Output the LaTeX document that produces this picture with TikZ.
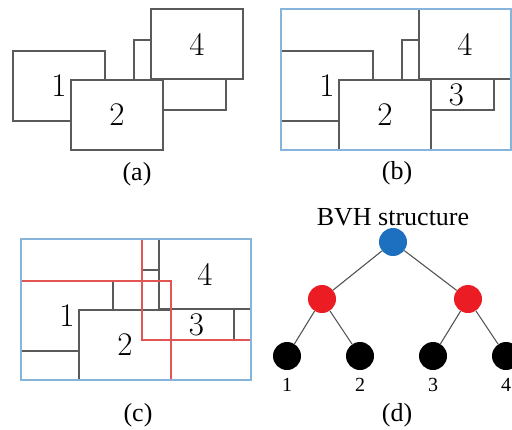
\documentclass[tikz,border=0pt]{standalone}
\usepackage{fontspec}
\newfontfamily\capfont{Liberation Serif}
\usetikzlibrary{positioning,fit}
\definecolor{rectgray}{HTML}{5A5A5A}
\definecolor{boxblue}{HTML}{86B4DA}
\definecolor{grpred}{HTML}{E25555}
\definecolor{rootblue}{HTML}{1D6FBF}
\definecolor{nodered}{HTML}{EC1C24}
\definecolor{edgegray}{HTML}{555555}
\tikzset{
  % rektanglar
  bx/.style={draw=rectgray,fill=white,line width=1.1pt,inner sep=0pt,outer sep=0pt,
             minimum width=92pt,minimum height=70pt,font=\fontsize{33}{36}\selectfont},
  bnum/.style={inner sep=0pt,font=\fontsize{33}{36}\selectfont},
  bvhbox/.style={draw=boxblue,line width=1.2pt,inner sep=0pt,outer sep=0pt},
  grp/.style={draw=grpred,line width=1.1pt,inner sep=0pt,outer sep=0pt},
  subcap/.style={font=\capfont\fontsize{26}{28}\selectfont,inner sep=0pt},
  % träd
  tn/.style={circle,inner sep=0pt,minimum size=28pt},
  troot/.style={tn,fill=rootblue},
  tmid/.style={tn,fill=nodered},
  tleaf/.style={tn,fill=black},
  te/.style={draw=edgegray,line width=1.1pt},
  leafno/.style={font=\capfont\fontsize{20}{22}\selectfont,inner sep=0pt},
}
\begin{document}
\begin{tikzpicture}[x=1pt,y=-1pt]
\useasboundingbox (0,0) rectangle (512,429);
  % (a)
  \begin{scope}[shift={(13,9)}]
    \node[bx] (a1) at (46,77) {1};
    \node[bx] (a3) at (167,66) {};
    \node[bx] (a2) at (104,106) {2};
    \node[bx] (a4) at (184,35) {4};
  \end{scope}
  \node[subcap] (capa) at (137,174) {(a)};
  % (b)
  \begin{scope}[shift={(281,9)}]
    \node[bx] (b1) at (46,77) {1};
    \node[bx] (b3) at (167,66) {};
    \node[bx] (b2) at (104,106) {2};
    \node[bx] (b4) at (184,35) {4};
    \node[bnum] (b3n) at (175.5,85.5) {3};
  \end{scope}
  \node[bvhbox,fit=(b1)(b2)(b3)(b4)] (bbox) {};
  \node[subcap] (capb) at (397,173) {(b)};
  % (c)
  \begin{scope}[shift={(21,239)}]
    \node[bx] (c1) at (46,77) {1};
    \node[bx] (c3) at (167,66) {};
    \node[bx] (c2) at (104,106) {2};
    \node[bx] (c4) at (184,35) {4};
    \node[bnum] (c3n) at (175.5,85.5) {3};
  \end{scope}
  \node[grp,fit=(c1)(c2)] (cgrp12) {};
  \node[grp,fit=(c3)(c4)] (cgrp34) {};
  \node[bvhbox,fit=(c1)(c2)(c3)(c4)] (cbox) {};
  \node[subcap] (capc) at (138,415) {(c)};
  % (d)
  \node[troot] (r) at (393,242) {};
  \node[tmid] (m1) at (322,299) {};
  \node[tmid] (m2) at (468,299) {};
  \node[tleaf] (l1) at (287,356) {};
  \node[tleaf] (l2) at (360,356) {};
  \node[tleaf] (l3) at (433,356) {};
  \node[tleaf] (l4) at (506,356) {};
  \draw[te] (r) -- (m1);
  \draw[te] (r) -- (m2);
  \draw[te] (m1) -- (l1);
  \draw[te] (m1) -- (l2);
  \draw[te] (m2) -- (l3);
  \draw[te] (m2) -- (l4);
  \node[subcap,above=2pt of r] (title) {BVH structure};
  \node[leafno,below=8pt of l1] (n1) {1};
  \node[leafno,below=8pt of l2] (n2) {2};
  \node[leafno,below=8pt of l3] (n3) {3};
  \node[leafno,below=8pt of l4] (n4) {4};
  \node[subcap] (capd) at (397,415) {(d)};
\end{tikzpicture}
\end{document}
